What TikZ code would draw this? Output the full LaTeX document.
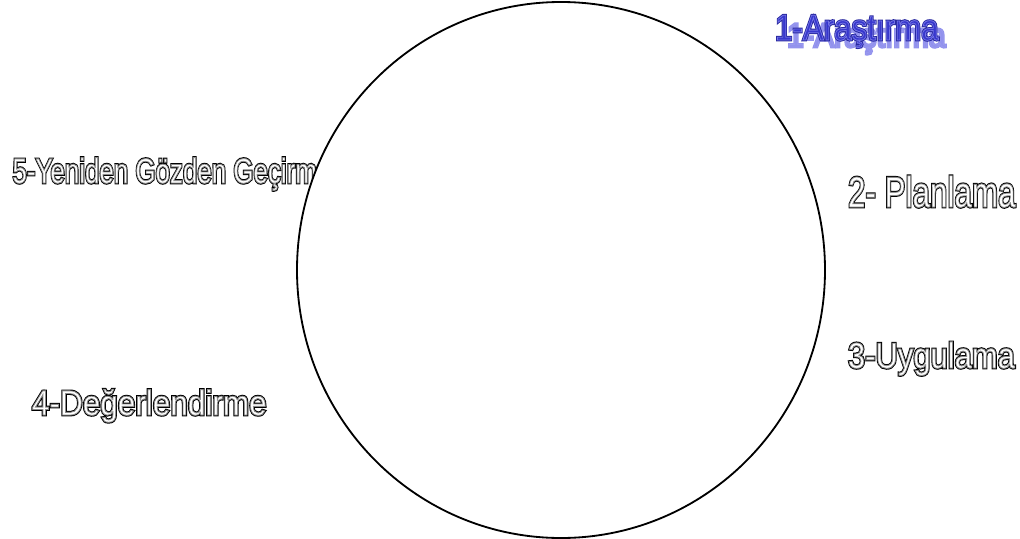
\documentclass[tikz,border=0pt]{standalone}
\usepackage{fontspec}
\setmainfont{Liberation Sans}
\usepackage{graphicx}
\usetikzlibrary{positioning}

\definecolor{arblue}{RGB}{55,55,205}
\definecolor{ardark}{RGB}{40,40,160}
\definecolor{arshadow}{RGB}{145,145,238}

% outlined letters: #1 rim colour, #2 inner stroke (pdf), #3 fill colour, #4 stretch, #5 text
\newcommand\outl[5]{%
  {\color{#1}\special{pdf:literal direct 2 Tr 2.0 w}\rlap{\scalebox{#4}[1]{#5}}\special{pdf:literal direct 0 Tr}}%
  {\color{#3}\special{pdf:literal direct #2 2 Tr 0.6 w}\scalebox{#4}[1]{#5}\special{pdf:literal direct 0 Tr}}}

\begin{document}
\begin{tikzpicture}[x=0.025cm, y=-0.025cm,
        lbl/.style={anchor=base west, inner sep=0pt, outer sep=0pt},
        rim/.style={draw=black, line width=1.3pt, fill=white}
    ]
    \useasboundingbox (0,0) rectangle (1020,539);

    % label behind the circle
    \node[lbl, font=\fontsize{24.9}{28}\selectfont] (gecirme) at (12.5,183) {\outl{black}{0.55 0.55 0.55 RG}{white}{0.74}{5-Yeniden Gözden Geçirme}};

    \draw[rim] (561,270) ellipse [x radius=264, y radius=268];

    \node[lbl, font=\fontsize{24}{28}\selectfont] (arastirma2) at (787,47) {\outl{arshadow}{0.6 0.6 0.93 RG}{arshadow}{0.9}{1-Araştırma}};
    \node[lbl, font=\fontsize{25.6}{30}\selectfont] (arastirma) at (775,40) {\outl{ardark}{0.45 0.45 0.9 RG}{arblue}{0.87}{1-Araştırma}};

    \node[lbl, font=\fontsize{30.6}{34}\selectfont] (planlama) at (848,207) {\outl{black}{0.55 0.55 0.55 RG}{white}{0.73}{2- Planlama}};

    \node[lbl, font=\fontsize{25.6}{30}\selectfont] (uygulama) at (848,368) {\outl{black}{0.55 0.55 0.55 RG}{white}{0.86}{3-Uygulama}};

    \node[lbl, font=\fontsize{24.9}{28}\selectfont] (degerlendirme) at (32,415) {\outl{black}{0.55 0.55 0.55 RG}{white}{0.9}{4-Değerlendirme}};
\end{tikzpicture}
\end{document}
